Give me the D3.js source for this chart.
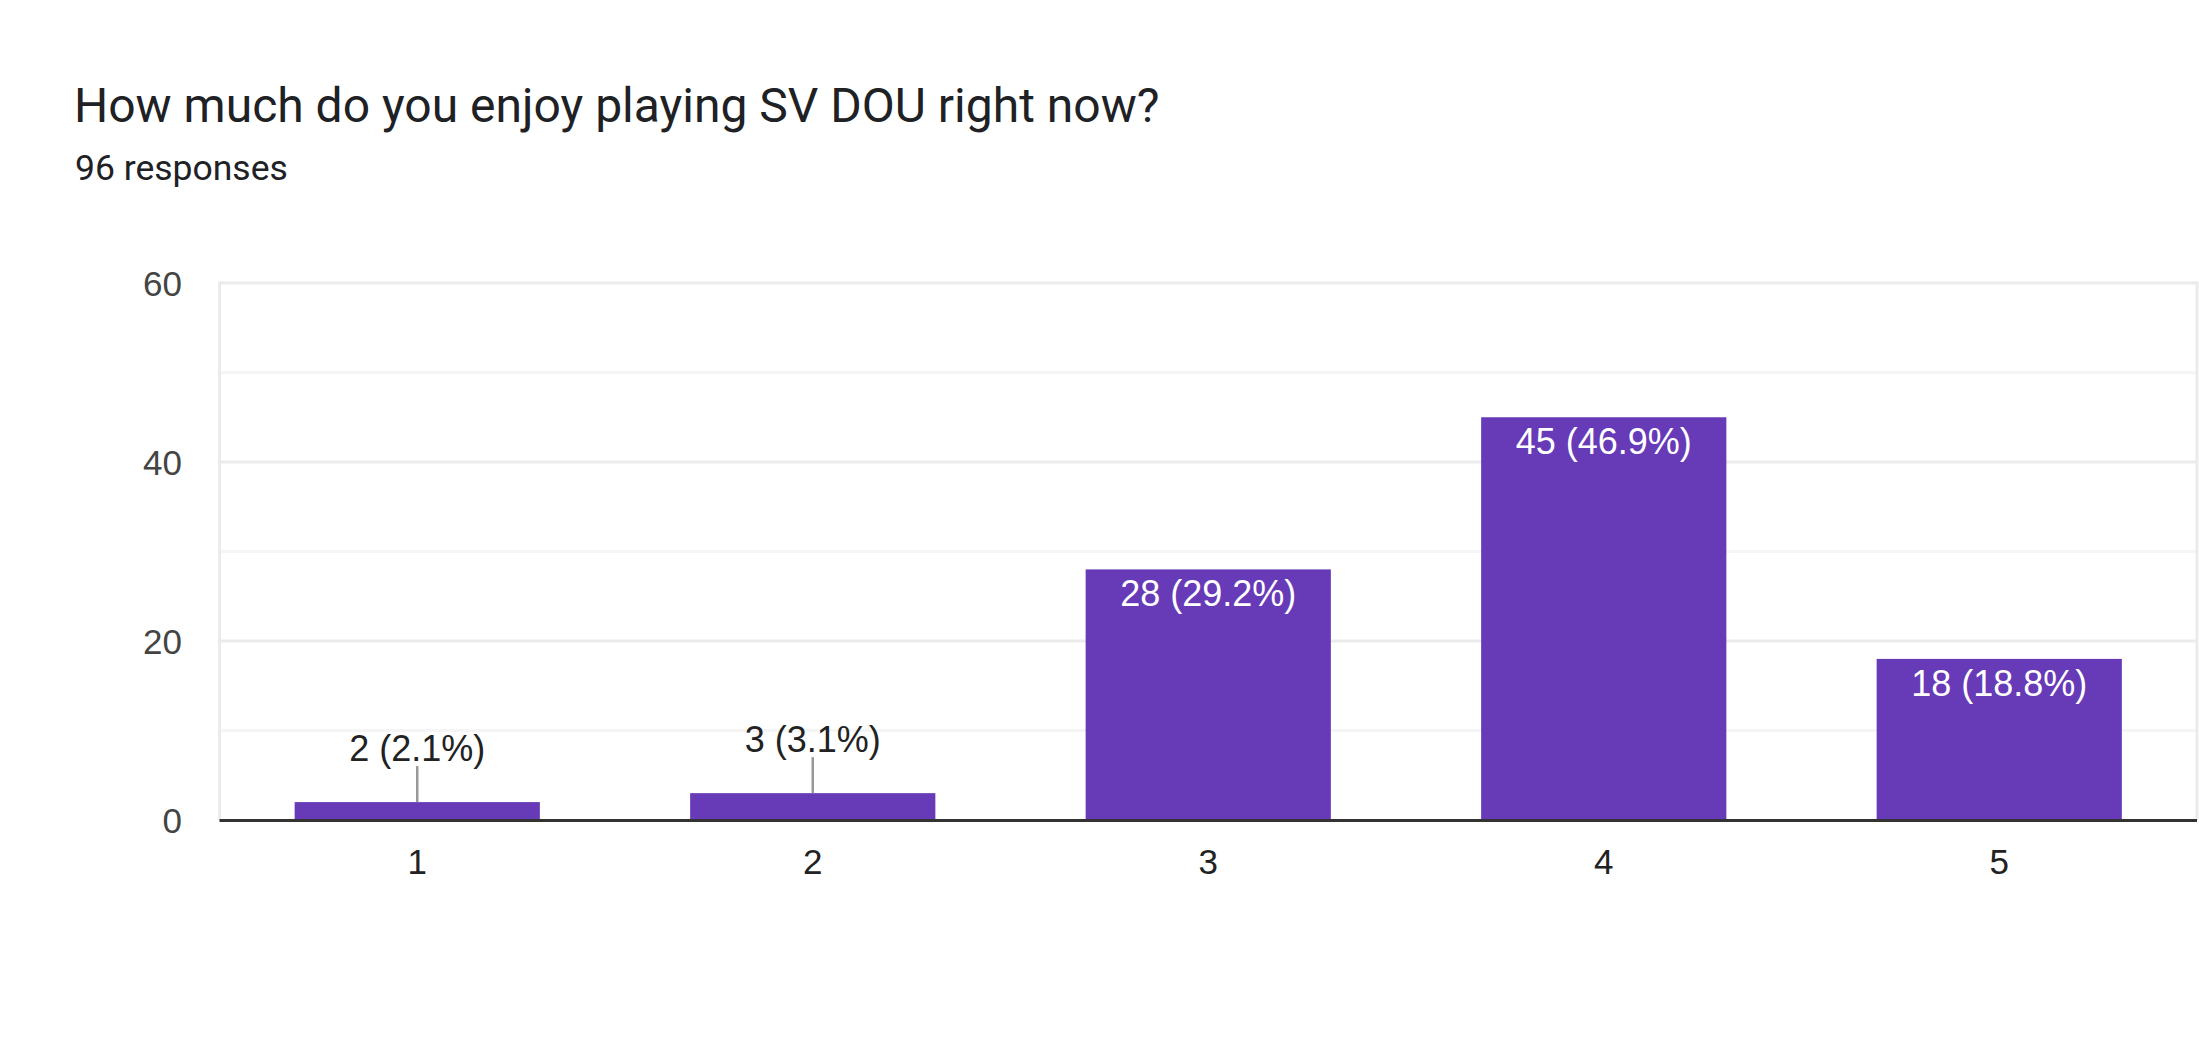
<!DOCTYPE html>
<html>
<head>
<meta charset="utf-8">
<script src="https://cdn.jsdelivr.net/npm/d3@7"></script>
<style>
  html, body { margin: 0; padding: 0; background: #fff; }
  svg { display: block; }
</style>
</head>
<body>
<svg id="chart" width="2199" height="1044"></svg>
<script>
const titleText = "How much do you enjoy playing SV DOU right now?";
const subtitleText = "96 responses";
const categories = ["1", "2", "3", "4", "5"];
const counts = [2, 3, 28, 45, 18];
const percents = ["2.1%", "3.1%", "29.2%", "46.9%", "18.8%"];
const yTicks = [0, 20, 40, 60];
const yMinorTicks = [10, 30, 50];

const W = 2199, H = 1044;
const plot = { left: 219.5, right: 2197, top: 283, bottom: 820 };
const barColor = "#673ab7";

const svg = d3.select("#chart");

svg.append("rect").attr("width", W).attr("height", H).attr("fill", "#fff");

// title & subtitle
svg.append("text")
  .attr("x", 74).attr("y", 122)
  .attr("font-family", "Roboto, 'Noto Sans', sans-serif")
  .attr("font-size", 48)
  .attr("fill", "#202124")
  .text(titleText);

svg.append("text")
  .attr("x", 75).attr("y", 180)
  .attr("font-family", "Roboto, 'Noto Sans', sans-serif")
  .attr("font-size", 35.5)
  .attr("fill", "#202124")
  .text(subtitleText);

const x = d3.scaleBand()
  .domain(categories)
  .range([plot.left, plot.right])
  .paddingInner(0.38)
  .paddingOuter(0.19);

const y = d3.scaleLinear()
  .domain([0, 60])
  .range([plot.bottom, plot.top]);

// minor gridlines
svg.append("g").selectAll("line")
  .data(yMinorTicks).join("line")
  .attr("x1", plot.left).attr("x2", plot.right)
  .attr("y1", d => y(d)).attr("y2", d => y(d))
  .attr("stroke", "#f5f5f5").attr("stroke-width", 3);

// major gridlines
svg.append("g").selectAll("line")
  .data(yTicks.filter(d => d !== 0)).join("line")
  .attr("x1", plot.left).attr("x2", plot.right)
  .attr("y1", d => y(d)).attr("y2", d => y(d))
  .attr("stroke", "#ebebeb").attr("stroke-width", 3);

// left & right borders
svg.append("g").selectAll("line")
  .data([plot.left, plot.right]).join("line")
  .attr("x1", d => d).attr("x2", d => d)
  .attr("y1", y(60) - 1.5).attr("y2", y(0))
  .attr("stroke", "#ebebeb").attr("stroke-width", 3);

// y axis labels
const yAxis = d3.axisLeft(y).tickValues(yTicks).tickSize(0).tickPadding(0);
const yg = svg.append("g")
  .attr("transform", `translate(182,0)`)
  .call(yAxis);
yg.select(".domain").remove();
yg.selectAll("text")
  .attr("font-family", "Arial, 'Liberation Sans', sans-serif")
  .attr("font-size", 35)
  .attr("fill", "#444")
  .attr("dy", "0.35em");

// bars
svg.append("g").selectAll("rect")
  .data(counts).join("rect")
  .attr("x", (d, i) => x(categories[i]))
  .attr("width", x.bandwidth())
  .attr("y", d => y(d))
  .attr("height", d => y(0) - y(d))
  .attr("fill", barColor);

// baseline
svg.append("line")
  .attr("x1", plot.left).attr("x2", plot.right)
  .attr("y1", y(0) + 0.5).attr("y2", y(0) + 0.5)
  .attr("stroke", "#333").attr("stroke-width", 3);

// x axis labels
const xAxis = d3.axisBottom(x).tickSize(0).tickPadding(0);
const xg = svg.append("g")
  .attr("transform", `translate(0,874)`)
  .call(xAxis);
xg.select(".domain").remove();
xg.selectAll("text")
  .attr("font-family", "Arial, 'Liberation Sans', sans-serif")
  .attr("font-size", 35)
  .attr("fill", "#222")
  .attr("dy", 0)
  .attr("y", 0);

// annotations
const insideMin = 10;
const labels = svg.append("g");
counts.forEach((d, i) => {
  const cx = x(categories[i]) + x.bandwidth() / 2;
  const txt = `${d} (${percents[i]})`;
  if (d >= insideMin) {
    labels.append("text")
      .attr("x", cx).attr("y", y(d) + 37)
      .attr("text-anchor", "middle")
      .attr("font-family", "Arial, 'Liberation Sans', sans-serif")
      .attr("font-size", 36)
      .attr("fill", "#fff")
      .text(txt);
  } else {
    labels.append("line")
      .attr("x1", cx).attr("x2", cx)
      .attr("y1", y(d)).attr("y2", y(d) - 36)
      .attr("stroke", "#999").attr("stroke-width", 2.5);
    labels.append("text")
      .attr("x", cx).attr("y", y(d) - 41)
      .attr("text-anchor", "middle")
      .attr("font-family", "Arial, 'Liberation Sans', sans-serif")
      .attr("font-size", 36)
      .attr("fill", "#222")
      .text(txt);
  }
});
</script>
</body>
</html>
